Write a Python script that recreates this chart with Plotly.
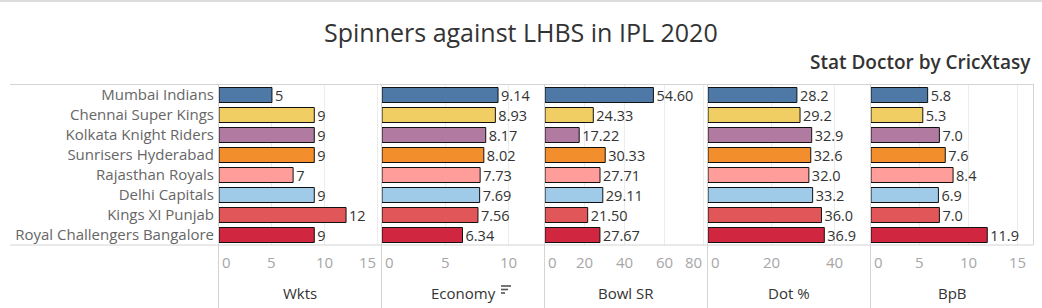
import plotly.graph_objects as go

W, H = 1042, 308

teams = ["Mumbai Indians", "Chennai Super Kings", "Kolkata Knight Riders",
         "Sunrisers Hyderabad", "Rajasthan Royals", "Delhi Capitals",
         "Kings XI Punjab", "Royal Challengers Bangalore"]
team_colors = ["#4e79a7", "#f1ce63", "#b07aa1", "#f28e2b", "#ff9d9a",
               "#a0cbe8", "#e15759", "#d0263f"]

wkts = [5, 9, 9, 9, 7, 9, 12, 9]
economy = [9.14, 8.93, 8.17, 8.02, 7.73, 7.69, 7.56, 6.34]
bowl_sr = [54.60, 24.33, 17.22, 30.33, 27.71, 29.11, 21.50, 27.67]
dot_pct = [28.2, 29.2, 32.9, 32.6, 32.0, 33.2, 36.0, 36.9]
bpb = [5.8, 5.3, 7.0, 7.6, 8.4, 6.9, 7.0, 11.9]

metric_names = ["Wkts", "Economy", "Bowl SR", "Dot %", "BpB"]
metric_values = [wkts, economy, bowl_sr, dot_pct, bpb]
metric_formats = ["%{x:.0f}", "%{x:.2f}", "%{x:.2f}", "%{x:.1f}", "%{x:.1f}"]
metric_ticks = [[0, 5, 10, 15], [0, 5, 10], [0, 20, 40, 60, 80], [0, 20, 40], [0, 5, 10, 15]]
metric_ranges = [[0, 15.3], [0, 12.76], [0, 81.6], [0, 51.4], [0, 16.58]]

# pixel layout
panel_left = [219, 382, 545, 708, 871]
panel_w = 162
row_top, row_bot = 85, 245

def px(x):
    return x / W

def py(y):
    return 1 - y / H

fig = go.Figure()
grid_col = "#ececec"
line_col = "#d4d4d4"
font_fam = "Open Sans, Noto Sans, sans-serif"

layout_axes = {}
for i, (name, vals, fmt, ticks, rng) in enumerate(
        zip(metric_names, metric_values, metric_formats, metric_ticks, metric_ranges)):
    xa = "x" if i == 0 else f"x{i+1}"
    fig.add_trace(go.Bar(
        y=teams, x=vals, orientation="h",
        xaxis=xa, yaxis="y",
        marker=dict(color=team_colors, line=dict(color="#111111", width=1)),
        width=0.75,
        texttemplate=fmt, textposition="outside", constraintext="none",
        textfont=dict(family=font_fam, size=14.5, color="#333333"),
        cliponaxis=False, showlegend=False, hoverinfo="x+y",
    ))
    key = "xaxis" if i == 0 else f"xaxis{i+1}"
    layout_axes[key] = dict(
        domain=[px(panel_left[i]), px(panel_left[i] + panel_w)],
        range=rng, anchor="y", showticklabels=False, ticks="",
        tickvals=ticks, showgrid=True, gridcolor=grid_col, gridwidth=1,
        zeroline=False, showline=False, fixedrange=True,
    )
    # tick labels (positioned on the axis scale)
    for j, t in enumerate(ticks):
        frac_to_end = (rng[1] - t) / (rng[1] - rng[0])
        if j == 0:
            xanchor, xshift = "left", 1
        elif frac_to_end < 0.06:
            xanchor, xshift = "right", 0
        else:
            xanchor, xshift = "center", 0
        fig.add_annotation(
            x=t, xref=xa, y=py(262), yref="paper", text=str(t),
            showarrow=False, xanchor=xanchor, yanchor="middle", xshift=xshift,
            font=dict(family=font_fam, size=15, color="#a6a6a6"),
        )
    # axis title
    fig.add_annotation(
        x=px(panel_left[i] + panel_w / 2), xref="paper", y=py(293), yref="paper",
        text=name, showarrow=False, xanchor="center", yanchor="middle",
        font=dict(family=font_fam, size=15, color="#333333"),
    )

fig.update_layout(
    width=W, height=H, margin=dict(l=0, r=0, t=0, b=0),
    paper_bgcolor="white", plot_bgcolor="white",
    bargap=0.25,
    yaxis=dict(
        domain=[py(row_bot), py(row_top)], anchor="x",
        categoryorder="array", categoryarray=teams, autorange="reversed",
        tickfont=dict(family=font_fam, size=15, color="#666666"),
        ticks="", showgrid=False, zeroline=False, showline=False,
        ticklabelstandoff=4, fixedrange=True,
    ),
    **layout_axes,
)

shapes = []
# top border of the dashboard
shapes.append(dict(type="line", xref="paper", yref="paper", x0=0, x1=1,
                   y0=py(1), y1=py(1), line=dict(color="#dcdcdc", width=2)))
# horizontal borders of the table
for yy in (84.5, 245):
    shapes.append(dict(type="line", xref="paper", yref="paper",
                       x0=px(10), x1=px(1033), y0=py(yy), y1=py(yy),
                       line=dict(color=line_col, width=1)))
# vertical separators
for xx in (218.5, 381.5, 544.5, 707.5, 870.5):
    shapes.append(dict(type="line", xref="paper", yref="paper",
                       x0=px(xx), x1=px(xx), y0=py(84), y1=0,
                       line=dict(color=line_col, width=1)))
shapes.append(dict(type="line", xref="paper", yref="paper",
                   x0=px(1033.5), x1=px(1033.5), y0=py(84), y1=py(245),
                   line=dict(color=line_col, width=1)))
# sort icon next to "Economy"
for k, ln in enumerate([10, 7, 4]):
    yy = 286 + k * 3.5
    shapes.append(dict(type="line", xref="paper", yref="paper",
                       x0=px(501), x1=px(501 + ln), y0=py(yy), y1=py(yy),
                       line=dict(color="#555555", width=1.6)))
fig.update_layout(shapes=shapes)

fig.add_annotation(x=0.5, xref="paper", y=py(32), yref="paper",
                   text="Spinners against LHBS in IPL 2020", showarrow=False,
                   xanchor="center", yanchor="middle",
                   font=dict(family=font_fam, size=25, color="#333333"))
fig.add_annotation(x=px(1033), xref="paper", y=py(62), yref="paper",
                   text="Stat Doctor by CricXtasy", showarrow=False,
                   xanchor="right", yanchor="middle",
                   font=dict(family=font_fam, size=19, color="#333333", weight=600))

fig.write_html("out.html")
